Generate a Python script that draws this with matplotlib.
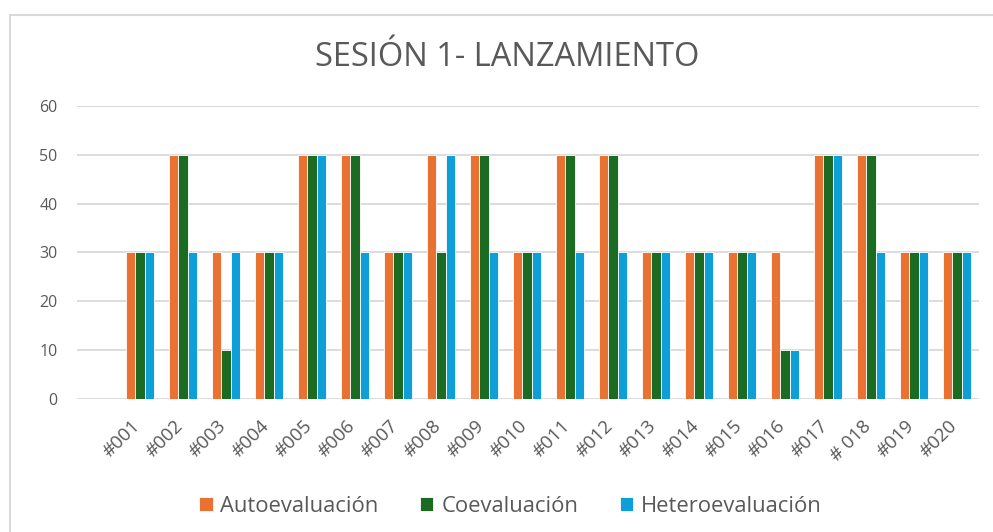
import numpy as np
import matplotlib.pyplot as plt
import matplotlib.patches as mpatches
from matplotlib.transforms import ScaledTranslation

plt.rcParams['font.family'] = ['Open Sans', 'DejaVu Sans']

alumnos = ['#001', '#002', '#003', '#004', '#005', '#006', '#007', '#008', '#009', '#010',
           '#011', '#012', '#013', '#014', '#015', '#016', '#017', '# 018', '#019', '#020']
auto = [30, 50, 30, 30, 50, 50, 30, 50, 50, 30, 50, 50, 30, 30, 30, 30, 50, 50, 30, 30]
coev = [30, 50, 10, 30, 50, 50, 30, 30, 50, 30, 50, 50, 30, 30, 30, 10, 50, 50, 30, 30]
hetero = [30, 30, 30, 30, 50, 30, 30, 50, 30, 30, 30, 30, 30, 30, 30, 10, 50, 30, 30, 30]

series = [('Autoevaluación', auto, '#E97132'),
          ('Coevaluación', coev, '#1B6B23'),
          ('Heteroevaluación', hetero, '#0E9FD8')]

fig = plt.figure(figsize=(9.93, 5.32), dpi=100)
ax = fig.add_axes([77/993, 0.25, (979-77)/993, 0.5508])

x = np.arange(len(alumnos))
w = 0.217
for i, (name, vals, col) in enumerate(series):
    ax.bar(x + (i-1)*w, vals, w, color=col, edgecolor='white', linewidth=0.6, label=name, zorder=3)

ax.set_ylim(0, 60)
ax.set_xlim(-1.465, 19.51)
ax.set_yticks(range(0, 61, 10))
ax.yaxis.grid(True, color='#D9D9D9', linewidth=1.3, zorder=0)
for s in ax.spines.values():
    s.set_visible(False)
ax.tick_params(axis='both', length=0, colors='#595959')
ax.tick_params(axis='y', pad=14, labelsize=11.5)
ax.set_xticks(x)
ax.set_xticklabels(alumnos, rotation=45, ha='right', va='center', rotation_mode='anchor',
                   fontsize=13.5)
off = ScaledTranslation(-2/72, -14/72, fig.dpi_scale_trans)
for lab in ax.get_xticklabels():
    lab.set_transform(lab.get_transform() + off)

fig.text(0.511, 1-57/532, 'SESIÓN 1- LANZAMIENTO', ha='center', va='center',
         fontsize=23.5, color='#595959')

fig.legend(loc='center', bbox_to_anchor=(0.514, 1-506/532), ncol=3, frameon=False,
           handlelength=0.6, handleheight=0.6, columnspacing=1.9, handletextpad=0.35,
           fontsize=15.8, labelcolor='#595959')

fig.patches.append(mpatches.Rectangle((10/993, -0.1), 1.2, 1-15/532+0.1, fill=False,
                                      edgecolor='#D9D9D9', linewidth=1.5,
                                      transform=fig.transFigure, figure=fig))

fig.savefig('out.png', dpi=100)
